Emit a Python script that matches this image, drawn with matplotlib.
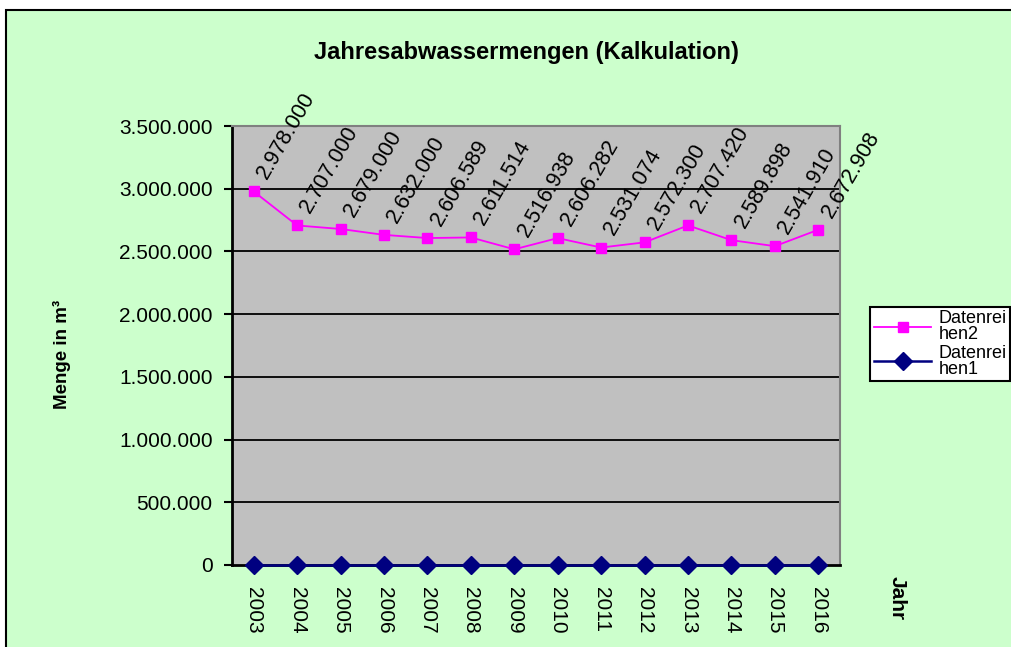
import matplotlib.pyplot as plt
from matplotlib.patches import Rectangle

plt.rcParams['font.family'] = ['Liberation Sans', 'DejaVu Sans']

years = ['2003', '2004', '2005', '2006', '2007', '2008', '2009',
         '2010', '2011', '2012', '2013', '2014', '2015', '2016']
reihe2 = [2978000, 2707000, 2679000, 2632000, 2606589, 2611514, 2516938,
          2606282, 2531074, 2572300, 2707420, 2589898, 2541910, 2672908]
reihe1 = [0, 0, 0, 0, 0, 0, 0, 0, 0, 0, 0, 0, 0, 0]
yticks = [0, 500000, 1000000, 1500000, 2000000, 2500000, 3000000, 3500000]


def de_fmt(v):
    return f'{v:,.0f}'.replace(',', '.')


fig = plt.figure(figsize=(10.11, 6.47), dpi=100)
fig.patch.set_facecolor('white')
fig.patches.append(Rectangle((6 / 1011, -0.02), 1.02, 1 - 10 / 647 + 0.02,
                             transform=fig.transFigure, facecolor='#CCFFCC',
                             edgecolor='black', linewidth=1.5, zorder=-5))

ax = fig.add_axes([232 / 1011, 1 - 565 / 647, 608 / 1011, 439 / 647])
ax.set_zorder(1)
ax.set_facecolor('#C0C0C0')

x = list(range(len(years)))
ax.plot(x, reihe2, color='#FF00FF', marker='s', markersize=7, linewidth=1.3,
        label='Datenrei\nhen2', zorder=3, clip_on=False)
ax.plot(x, reihe1, color='#000080', marker='D', markersize=9, linewidth=1.8,
        label='Datenrei\nhen1', zorder=4, clip_on=False)

for xi, v in zip(x, reihe2):
    ax.annotate(de_fmt(v), (xi, v), xytext=(9.5, 8), textcoords='offset points',
                rotation=60, rotation_mode='anchor', ha='left', va='baseline',
                fontsize=15.5, annotation_clip=False, zorder=5)

ax.set_xlim(-0.5, 13.5)
ax.set_ylim(0, 3500000)
ax.set_yticks(yticks)
ax.set_yticklabels([de_fmt(v) for v in yticks], fontsize=15)
ax.set_xticks(x)
ax.set_xticklabels(years, rotation=270, fontsize=15)
ax.tick_params(axis='x', length=0, pad=16)
ax.tick_params(axis='y', length=6, width=1.5, pad=8)

for v in yticks[1:-1]:
    ax.axhline(v, color='black', linewidth=1.3, zorder=1)

ax.spines['left'].set_linewidth(2)
ax.spines['bottom'].set_linewidth(2)
ax.spines['top'].set_color('#808080')
ax.spines['right'].set_color('#808080')
ax.spines['top'].set_linewidth(1.5)
ax.spines['right'].set_linewidth(1.5)

fig.text(526 / 1011, 1 - 52 / 647, 'Jahresabwassermengen (Kalkulation)',
         ha='center', va='center', fontsize=17, fontweight='bold')
fig.text(62 / 1011, 1 - 354 / 647, 'Menge in m³', rotation=90,
         ha='center', va='center', fontsize=13.5, fontweight='bold')
fig.text(897 / 1011, 1 - 598 / 647, 'Jahr', rotation=270,
         ha='center', va='center', fontsize=15, fontweight='bold')

leg = ax.legend(loc='center left', bbox_to_anchor=(870 / 1011, 1 - 344 / 647),
                bbox_transform=fig.transFigure, fontsize=13, frameon=True,
                fancybox=False, framealpha=1, edgecolor='black',
                borderpad=0.2, labelspacing=0.1, handlelength=3.2,
                handletextpad=0.4, borderaxespad=0)
leg.get_frame().set_linewidth(1.5)
for t in leg.get_texts():
    t.set_linespacing(0.9)

fig.savefig('out.png', dpi=100)
